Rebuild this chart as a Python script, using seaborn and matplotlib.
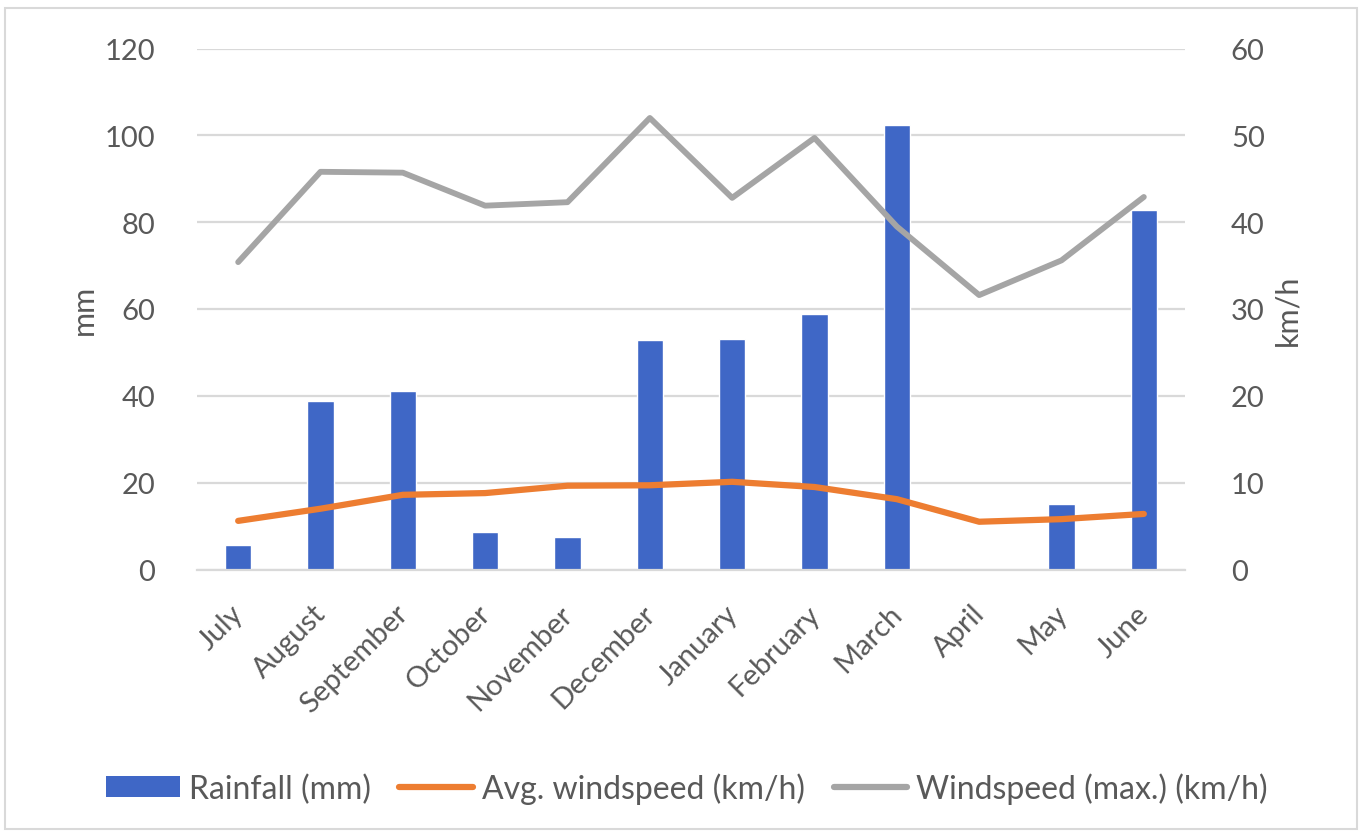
import numpy as np
import pandas as pd
import matplotlib
matplotlib.use("Agg")
import matplotlib.pyplot as plt
import matplotlib.transforms as mtransforms
import seaborn as sns
from matplotlib.patches import Rectangle, Patch
from matplotlib.lines import Line2D

# Monthly climate data
months = ["July", "August", "September", "October", "November", "December",
          "January", "February", "March", "April", "May", "June"]
rainfall_mm = [5.7, 38.8, 41.2, 8.6, 7.4, 52.9, 53.0, 58.9, 102.3, 0.0, 15.1, 82.7]
avg_wind_kmh = [5.6, 7.0, 8.6, 8.8, 9.65, 9.7, 10.1, 9.5, 8.1, 5.5, 5.8, 6.4]
max_wind_kmh = [35.4, 45.8, 45.7, 41.9, 42.3, 52.0, 42.8, 49.7, 39.5, 31.6, 35.6, 42.9]

left_ticks = [0, 20, 40, 60, 80, 100, 120]
right_ticks = [0, 10, 20, 30, 40, 50, 60]

BLUE = "#3F67C6"
ORANGE = "#ED7D31"
GRAY = "#A5A5A5"
TEXT = "#595959"
GRID = "#D9D9D9"

sns.set_theme(style="white")
plt.rcParams["font.family"] = ["Lato", "DejaVu Sans"]
FS = 21

df = pd.DataFrame({
    "month": months,
    "pos": np.arange(len(months)),
    "rain": rainfall_mm,
    "avg": avg_wind_kmh,
    "max": max_wind_kmh,
})

W, H = 1362, 837
fig = plt.figure(figsize=(W / 100, H / 100), dpi=100)
ax = fig.add_axes([197 / W, 1 - 570.5 / H, (1185 - 197) / W, (570.5 - 49.5) / H])

sns.barplot(data=df, x="month", y="rain", color=BLUE, width=0.32,
            saturation=1, ax=ax, zorder=2)
ax.set_xlim(-0.5, len(months) - 0.5)
ax.set_ylim(0, 120)
ax.set_yticks(left_ticks)
ax.yaxis.grid(True, color=GRID, linewidth=1.6, zorder=0)
ax.set_axisbelow(True)
for s in ["top", "right", "left"]:
    ax.spines[s].set_visible(False)
ax.spines["bottom"].set_color(GRID)
ax.spines["bottom"].set_linewidth(1.6)

ax.tick_params(axis="y", length=0, labelsize=FS, labelcolor=TEXT, pad=30)
ax.set_xticks(np.arange(len(months)))
ax.set_xticklabels(months, rotation=45, ha="right", rotation_mode="anchor",
                   fontsize=FS, color=TEXT)
ax.tick_params(axis="x", which="major", length=0, pad=22)
shift = mtransforms.ScaledTranslation(-8 / 100, 0, fig.dpi_scale_trans)
for lbl in ax.get_xticklabels():
    lbl.set_transform(lbl.get_transform() + shift)
ax.set_xticks(np.arange(-0.5, len(months)), minor=True)
ax.tick_params(axis="x", which="minor", length=6, width=1.4, color=GRID, direction="out")
ax.set_xlabel("")
ax.set_ylabel("mm", fontsize=FS + 1, color=TEXT, labelpad=5)

ax2 = ax.twinx()
sns.lineplot(data=df, x="pos", y="avg", color=ORANGE, linewidth=4.5, ax=ax2,
             solid_capstyle="round")
sns.lineplot(data=df, x="pos", y="max", color=GRAY, linewidth=4.2, ax=ax2,
             solid_capstyle="round")
ax2.set_ylim(0, 60)
ax2.set_yticks(right_ticks)
ax2.set_xlim(-0.5, len(months) - 0.5)
for s in ["top", "right", "left", "bottom"]:
    ax2.spines[s].set_visible(False)
ax2.tick_params(axis="y", length=0, labelsize=FS, labelcolor=TEXT, pad=33)
ax2.set_ylabel("km/h", fontsize=FS + 1, color=TEXT, labelpad=6)
ax2.set_xlabel("")
ax2.grid(False)

handles = [
    Patch(facecolor=BLUE, edgecolor="none"),
    Line2D([0], [0], color=ORANGE, linewidth=4.5),
    Line2D([0], [0], color=GRAY, linewidth=4.5),
]
labels = ["Rainfall (mm)", "Avg. windspeed (km/h)", "Windspeed (max.) (km/h)"]
fig.legend(handles, labels, loc="center", bbox_to_anchor=(687 / W, 1 - 789 / H),
           ncol=3, frameon=False, fontsize=23, labelcolor=TEXT,
           handlelength=2.3, handletextpad=0.28, columnspacing=0.9,
           handleheight=0.6)

# Chart area border
fig.patches.append(Rectangle((5 / W, 1 - 830 / H), (1357 - 5) / W, (830 - 9) / H,
                             transform=fig.transFigure, fill=False,
                             edgecolor=GRID, linewidth=1.5))

fig.savefig("out.png", dpi=100, facecolor="white")
